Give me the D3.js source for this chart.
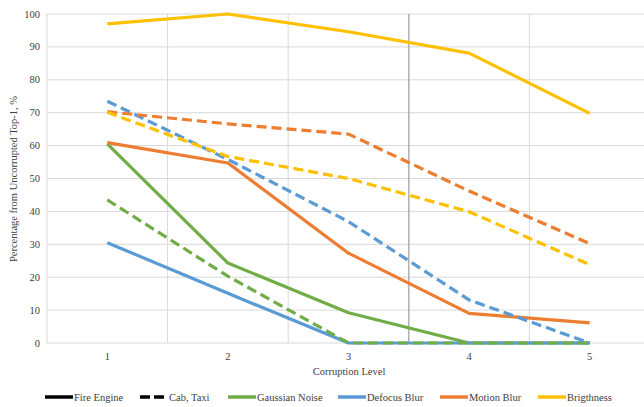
<!DOCTYPE html>
<html><head><meta charset="utf-8">
<script src="https://cdn.jsdelivr.net/npm/d3@7/dist/d3.min.js"></script>
<style>body{margin:0;background:#fff}svg{display:block}
svg text{font-family:"Liberation Serif","DejaVu Serif",serif;font-stretch:condensed;}
</style>
</head><body><svg id="c" width="644" height="407"></svg>
<script>
const levels = [1, 2, 3, 4, 5];
const yTicks = [0, 10, 20, 30, 40, 50, 60, 70, 80, 90, 100];
// Fire Engine (solid)
const fireGaussian = [60.5, 24.3, 9.2, 0, 0];
const fireDefocus = [30.5, 15.1, 0, 0, 0];
const fireMotion = [60.9, 54.7, 27.3, 9.0, 6.1];
const fireBrightness = [97, 100, 94.6, 88.1, 69.8];
// Cab, Taxi (dashed)
const cabGaussian = [43.5, 20.3, 0, 0, 0];
const cabDefocus = [73.5, 55.8, 36.9, 13.1, 0];
const cabMotion = [70.3, 66.6, 63.5, 46.2, 30.2];
const cabBrightness = [70.1, 56.7, 50.0, 39.9, 23.8];
const corruptionNames = ["Gaussian Noise", "Defocus Blur", "Motion Blur", "Brigthness"];
const colors = ["#70AD47", "#5B9BD5", "#ED7D31", "#FFC000"];
const markerLine = 3.5;

const series = [
  {v: fireGaussian, c: 0, dash: false},
  {v: fireDefocus, c: 1, dash: false},
  {v: fireMotion, c: 2, dash: false},
  {v: fireBrightness, c: 3, dash: false},
  {v: cabGaussian, c: 0, dash: true},
  {v: cabDefocus, c: 1, dash: true},
  {v: cabMotion, c: 2, dash: true},
  {v: cabBrightness, c: 3, dash: true}
];

const svg = d3.select("#c");
const pL = 47, pR = 650, pT = 14, pB = 343;
const xb = d3.scaleBand().domain(levels).range([pL, pR]);
const x = d => xb(d) + xb.bandwidth() / 2;
const xl = d3.scaleLinear().domain([0.5, 5.5]).range([pL, pR]);
const y = d3.scaleLinear().domain([0, 100]).range([pB, pT]);

svg.append("g").selectAll("line").data(yTicks).join("line")
  .attr("x1", pL).attr("x2", pR).attr("y1", d => y(d)).attr("y2", d => y(d))
  .attr("stroke", "#d9d9d9").attr("stroke-width", 1);
const bounds = levels.map(d => xb(d)).concat([pR]);
svg.append("g").selectAll("line").data(bounds).join("line")
  .attr("x1", d => d).attr("x2", d => d).attr("y1", pT).attr("y2", pB)
  .attr("stroke", "#d9d9d9").attr("stroke-width", 1);
svg.append("line").attr("x1", xl(markerLine)).attr("x2", xl(markerLine))
  .attr("y1", pT).attr("y2", pB).attr("stroke", "#a6a6a6").attr("stroke-width", 1.2);

const txt = "#404040";
svg.append("g").selectAll("text").data(yTicks).join("text")
  .attr("x", 40).attr("y", d => y(d) + 3.5).attr("text-anchor", "end")
  .attr("font-size", 10.5).attr("fill", txt).text(d => d);
svg.append("g").selectAll("text").data(levels).join("text")
  .attr("x", d => x(d)).attr("y", 360).attr("text-anchor", "middle")
  .attr("font-size", 10.5).attr("fill", txt).text(d => d);
svg.append("text").attr("x", 349).attr("y", 375).attr("text-anchor", "middle")
  .attr("font-size", 10.5).attr("fill", txt).text("Corruption Level");
svg.append("text").attr("transform", "translate(17,179) rotate(-90)")
  .attr("text-anchor", "middle").attr("font-size", 10.5).attr("fill", txt)
  .text("Percentage from Uncorrupted Top-1, %");

const line = d3.line().x((d, i) => x(levels[i])).y(d => y(d));
svg.append("g").selectAll("path").data(series).join("path")
  .attr("d", d => line(d.v)).attr("fill", "none")
  .attr("stroke", d => colors[d.c]).attr("stroke-width", 3.2)
  .attr("stroke-linejoin", "round")
  .attr("stroke-dasharray", d => d.dash ? "10,5" : null);

const legend = [
  {label: "Fire Engine", color: "#000", dash: false, x: 45},
  {label: "Cab, Taxi", color: "#000", dash: true, x: 140},
  {label: corruptionNames[0], color: colors[0], dash: false, x: 228},
  {label: corruptionNames[1], color: colors[1], dash: false, x: 338},
  {label: corruptionNames[2], color: colors[2], dash: false, x: 440},
  {label: corruptionNames[3], color: colors[3], dash: false, x: 538}
];
const lg = svg.append("g").selectAll("g").data(legend).join("g")
  .attr("transform", d => `translate(${d.x},397)`);
lg.append("line").attr("x1", 0).attr("x2", 28).attr("y1", 0).attr("y2", 0)
  .attr("stroke", d => d.color).attr("stroke-width", 3.5)
  .attr("stroke-dasharray", d => d.dash ? "10,4" : null);
lg.append("text").attr("x", 29).attr("y", 3.8).attr("font-size", 10.5).attr("fill", txt).text(d => d.label);
</script></body></html>
